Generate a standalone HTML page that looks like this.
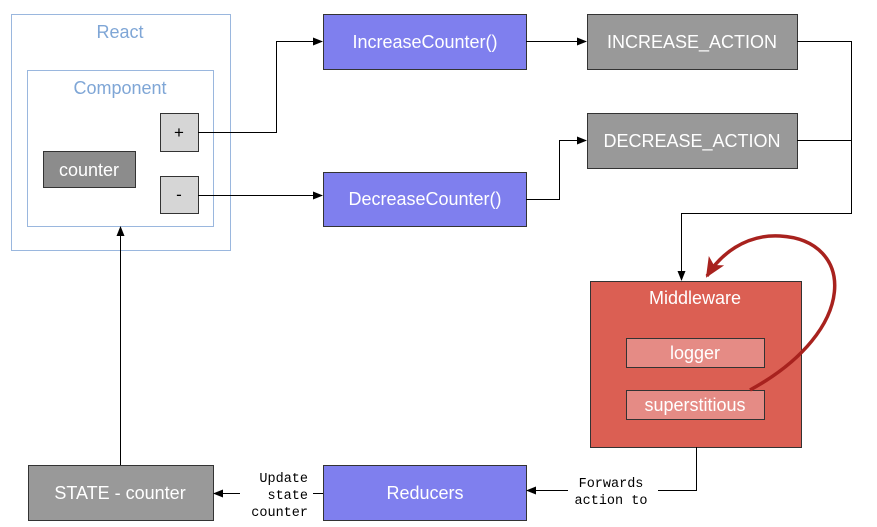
<!DOCTYPE html>
<html><head><style>
body{margin:0;background:#fff}
svg{display:block}
text{font-family:"Liberation Sans",sans-serif}
.m{font-family:"Liberation Mono",monospace;font-size:13.5px}
</style></head><body>
<svg width="877" height="527" viewBox="0 0 877 527">
<defs>
<marker id="a" markerWidth="10" markerHeight="10" refX="9" refY="5" orient="auto" markerUnits="userSpaceOnUse"><path d="M0,1 L10,5 L0,9 Z" fill="#000"/></marker>
<marker id="r" markerWidth="22" markerHeight="22" refX="18" refY="11" orient="auto" markerUnits="userSpaceOnUse"><path d="M0,2 L20,11 L0,20 L5,11 Z" fill="#a8221e"/></marker>
</defs>
<rect x="11.5" y="14.5" width="219" height="236" fill="#fff" stroke="#9ab7de"/>
<text x="120" y="38" font-size="18" fill="#7fa6d6" text-anchor="middle">React</text>
<rect x="27.5" y="70.5" width="186" height="156" fill="#fff" stroke="#9ab7de"/>
<text x="120" y="94" font-size="18" fill="#7fa6d6" text-anchor="middle">Component</text>
<rect x="160.5" y="113.5" width="38" height="38" fill="#d6d6d6" stroke="#333"/>
<text x="179" y="138" font-size="17" text-anchor="middle">+</text>
<rect x="160.5" y="176.5" width="38" height="37" fill="#d6d6d6" stroke="#333"/>
<text x="179" y="200" font-size="17" text-anchor="middle">-</text>
<rect x="43.5" y="151.5" width="92" height="36" fill="#8c8c8c" stroke="#333"/>
<text x="89" y="176" font-size="18" fill="#fff" text-anchor="middle">counter</text>

<rect x="323.5" y="14.5" width="203" height="55" fill="#7f7fee" stroke="#333"/>
<text x="425" y="48" font-size="18" fill="#fff" text-anchor="middle">IncreaseCounter()</text>
<rect x="323.5" y="172.5" width="203" height="54" fill="#7f7fee" stroke="#333"/>
<text x="425" y="205" font-size="18" fill="#fff" text-anchor="middle">DecreaseCounter()</text>
<rect x="587.5" y="14.5" width="210" height="55" fill="#999" stroke="#333"/>
<text x="692" y="48" font-size="18" fill="#fff" text-anchor="middle">INCREASE_ACTION</text>
<rect x="587.5" y="113.5" width="210" height="55" fill="#999" stroke="#333"/>
<text x="692" y="147" font-size="18" fill="#fff" text-anchor="middle">DECREASE_ACTION</text>

<rect x="590.5" y="281.5" width="211" height="166" fill="#db5f53" stroke="#333"/>
<text x="695" y="304" font-size="18" fill="#fff" text-anchor="middle">Middleware</text>
<rect x="626.5" y="338.5" width="138" height="29" fill="#e58b85" stroke="#333"/>
<text x="695" y="359" font-size="18" fill="#fff" text-anchor="middle">logger</text>
<rect x="626.5" y="390.5" width="138" height="29" fill="#e58b85" stroke="#333"/>
<text x="695" y="411" font-size="18" fill="#fff" text-anchor="middle">superstitious</text>

<rect x="323.5" y="465.5" width="203" height="55" fill="#7f7fee" stroke="#333"/>
<text x="425" y="499" font-size="18" fill="#fff" text-anchor="middle">Reducers</text>
<rect x="28.5" y="465.5" width="185" height="55" fill="#999" stroke="#333"/>
<text x="120" y="499" font-size="18" fill="#fff" text-anchor="middle">STATE - counter</text>

<g fill="none" stroke="#000" stroke-width="1">
<path d="M198,132.5 H276.5 V41.5 H322" marker-end="url(#a)"/>
<path d="M198,195.5 H322" marker-end="url(#a)"/>
<path d="M526,41.5 H586" marker-end="url(#a)"/>
<path d="M526,199.5 H559.5 V140.5 H586" marker-end="url(#a)"/>
<path d="M797,41.5 H851.5 V213.5 H681.5 V280" marker-end="url(#a)"/>
<path d="M797,140.5 H851.5"/>
<path d="M696.5,447 V490.5 H658"/>
<path d="M568,490.5 H527" marker-end="url(#a)"/>
<path d="M323,493.5 H313"/>
<path d="M240,493.5 H214" marker-end="url(#a)"/>
<path d="M120.5,465 V227" marker-end="url(#a)"/>
</g>
<path d="M750,390 C860,330 855,240 780,236 C745,234 720,255 707,276" fill="none" stroke="#a8221e" stroke-width="3.5" marker-end="url(#r)"/>
<text class="m" x="611" y="487" text-anchor="middle">Forwards</text>
<text class="m" x="611" y="504" text-anchor="middle">action to</text>
<text class="m" x="308" y="482" text-anchor="end">Update</text>
<text class="m" x="308" y="499" text-anchor="end">state</text>
<text class="m" x="308" y="516" text-anchor="end">counter</text>
</svg>
</body></html>
